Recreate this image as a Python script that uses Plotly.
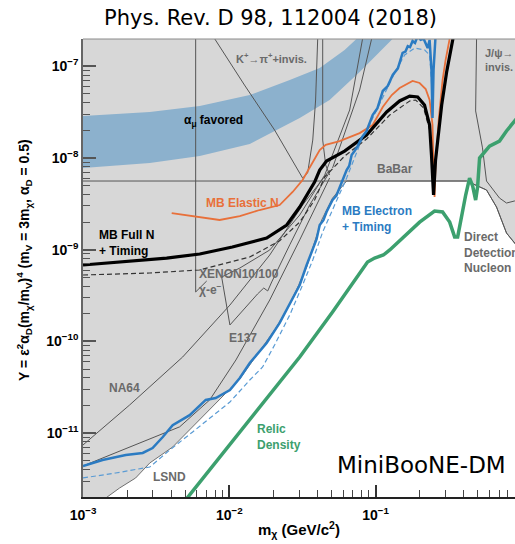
import plotly.graph_objects as go

# ---------------- data: dark-matter mass m_chi [GeV] and Y = eps^2 alpha_D (m_chi/m_V)^4 ----------------

# region still allowed (everything else is excluded / grey)
allowed_m = [1.33e-3, 1.78e-3, 2.29e-3, 2.86e-3, 4.10e-3, 5.62e-3, 8.07e-3, 1.18e-2, 1.38e-2, 1.69e-2,
             2.04e-2, 2.47e-2, 2.88e-2, 3.38e-2, 3.78e-2, 4.28e-2, 5.08e-2, 6.34e-2, 0.419, 0.573,
             0.671, 0.785, 0.891, 1.0, 1.0]
allowed_y = [1.8e-12, 2.52e-12, 3.24e-12, 4.72e-12, 7.05e-12, 1.17e-11, 2.13e-11, 3.89e-11, 5.53e-11, 8.69e-11,
             1.33e-10, 2.20e-10, 3.64e-10, 6.47e-10, 1.13e-9, 2.11e-9, 3.66e-9, 5.61e-9, 5.61e-9, 4.48e-9,
             2.92e-9, 1.52e-9, 1.18e-9, 9.5e-10, 1.8e-12]

# muon g-2 favoured band (upper edge then lower edge reversed)
amu_m = [1.0e-3, 2.86e-3, 6.28e-3, 1.38e-2, 2.59e-2, 4.15e-2, 6.14e-2, 7.78e-2,
         0.146, 0.131, 7.78e-2, 4.85e-2, 3.03e-2, 1.38e-2, 6.28e-3, 2.86e-3, 1.0e-3]
amu_y = [2.87e-8, 3.18e-8, 3.69e-8, 4.86e-8, 7.09e-8, 9.58e-8, 1.51e-7, 2.14e-7,
         2.49e-7, 2.0e-7, 8.67e-8, 4.29e-8, 2.73e-8, 1.42e-8, 1.05e-8, 8.82e-9, 7.78e-9]

# other experimental limits (thin lines)
babar_m = [1.0e-3, 0.419, 0.573, 0.671, 0.785, 0.891, 1.0]
babar_y = [5.61e-9, 5.61e-9, 4.48e-9, 2.92e-9, 1.52e-9, 1.18e-9, 9.5e-10]

kpi_m = [7.94e-3, 1.27e-2, 2.04e-2, 2.80e-2, 3.17e-2, 3.43e-2, 3.72e-2, 3.89e-2, 4.02e-2]
kpi_y = [2.0e-7, 6.25e-8, 2.02e-8, 8.39e-9, 6.05e-9, 6.85e-9, 1.57e-8, 4.29e-8, 2.0e-7]

dump1_m = [4.35e-2, 4.35e-2, 4.56e-2, 4.85e-2]
dump1_y = [2.0e-7, 1.57e-8, 8.39e-9, 6.52e-9]

dump2_m = [5.08e-2, 7.78e-2, 9.40e-2]
dump2_y = [7.78e-9, 5.52e-8, 2.0e-7]

dump3_m = [4.49e-2, 6.65e-2, 8.15e-2]
dump3_y = [6.52e-9, 3.34e-8, 2.0e-7]

na64_m = [4.85e-2, 3.17e-2, 1.89e-2, 1.01e-2, 4.80e-3, 2.08e-3, 1.0e-3]
na64_y = [7.40e-9, 3.07e-9, 8.75e-10, 2.49e-10, 6.76e-11, 2.02e-11, 7.42e-12]

lowmass_m = [1.0e-3, 2.08e-3, 4.58e-3, 7.35e-3, 1.11e-2, 1.89e-2, 3.03e-2, 4.85e-2]
lowmass_y = [4.38e-12, 7.05e-12, 1.17e-11, 2.30e-11, 6.27e-11, 2.83e-10, 1.28e-9, 6.05e-9]

e137_m = [4.49e-2, 3.03e-2, 1.89e-2, 1.18e-2, 8.87e-3, 1.01e-2, 1.56e-2, 1.72e-2, 1.83e-2, 1.95e-2,
          2.59e-2, 3.54e-2, 4.85e-2]
e137_y = [6.52e-9, 2.39e-9, 9.93e-10, 6.31e-10, 5.04e-10, 1.51e-10, 3.29e-10, 3.82e-10, 3.55e-10, 4.45e-10,
          1.13e-9, 3.07e-9, 7.03e-9]

xenon_m = [5.89e-3, 5.89e-3, 7.01e-3]
xenon_y = [2.0e-7, 3.46e-10, 4.56e-10]

jpsi_m = [0.490, 0.483, 0.538, 0.573, 0.703, 0.785, 0.891, 1.0]
jpsi_y = [2.0e-7, 3.26e-8, 1.29e-8, 5.61e-9, 3.66e-9, 3.23e-9, 3.40e-9, 3.5e-9]

# MiniBooNE nucleon (full N + timing): observed and expected
full_m = [1.0e-3, 1.78e-3, 3.73e-3, 6.28e-3, 1.05e-2, 1.80e-2, 2.47e-2, 3.03e-2, 3.83e-2, 4.15e-2,
          4.62e-2, 6.14e-2, 8.68e-2, 0.119, 0.146, 0.171, 0.194, 0.216, 0.234, 0.241,
          0.249, 0.257, 0.270, 0.283, 0.306, 0.336, 0.347]
full_y = [6.81e-10, 7.34e-10, 8.11e-10, 8.98e-10, 1.07e-9, 1.34e-9, 1.86e-9, 2.92e-9, 5.47e-9, 7.40e-9,
          9.27e-9, 1.19e-8, 1.78e-8, 3.18e-8, 4.19e-8, 4.74e-8, 4.63e-8, 3.78e-8, 2.29e-8, 1.08e-8,
          3.95e-9, 9.51e-9, 2.02e-8, 3.78e-8, 8.67e-8, 2.0e-7, 2.5e-7]

full_exp_m = [1.0e-3, 2.86e-3, 6.28e-3, 1.38e-2, 2.21e-2, 3.03e-2, 3.83e-2, 4.49e-2, 6.14e-2, 8.68e-2,
              0.125, 0.171, 0.188, 0.213, 0.234, 0.245]
full_exp_y = [5.30e-10, 5.57e-10, 6.01e-10, 8.32e-10, 1.25e-9, 2.00e-9, 3.48e-9, 6.21e-9, 1.05e-8, 1.61e-8,
              2.94e-8, 4.19e-8, 4.29e-8, 3.51e-8, 2.02e-8, 8.39e-9]

# MiniBooNE elastic nucleon
elastic_m = [4.04e-3, 6.28e-3, 8.59e-3, 1.18e-2, 1.61e-2, 2.21e-2, 2.71e-2, 3.17e-2, 3.65e-2, 4.15e-2,
             4.56e-2, 5.68e-2, 7.78e-2, 9.55e-2, 0.112, 0.129, 0.146, 0.179, 0.200, 0.220,
             0.234, 0.245, 0.249, 0.253, 0.257, 0.270, 0.287, 0.301, 0.321, 0.330]
elastic_y = [2.51e-9, 2.27e-9, 2.11e-9, 2.33e-9, 2.71e-9, 3.07e-9, 4.26e-9, 5.75e-9, 8.60e-9, 1.22e-8,
             1.39e-8, 1.53e-8, 1.87e-8, 2.29e-8, 3.60e-8, 4.86e-8, 5.79e-8, 6.92e-8, 6.58e-8, 5.65e-8,
             4.29e-8, 2.29e-8, 7.40e-9, 3.76e-9, 8.39e-9, 2.59e-8, 7.09e-8, 1.17e-7, 2.0e-7, 2.5e-7]

# MiniBooNE electron + timing: observed (with its statistical wiggles) and expected
electron_m = [1.0e-3, 1.36e-3, 1.96e-3, 2.56e-3, 2.99e-3, 3.51e-3, 4.10e-3, 5.36e-3, 6.90e-3, 8.07e-3,
              1.01e-2, 1.18e-2, 1.38e-2, 1.80e-2, 2.21e-2, 2.59e-2, 3.03e-2, 3.38e-2, 3.72e-2, 3.95e-2,
              4.15e-2, 4.40e-2, 4.62e-2, 5.08e-2, 5.40e-2, 5.68e-2, 6.34e-2, 6.60e-2, 6.86e-2, 7.20e-2,
              7.54e-2, 8.10e-2, 8.68e-2, 9.55e-2, 0.103, 0.112, 0.121, 0.131, 0.142, 0.153,
              0.160, 0.166, 0.172, 0.179, 0.186, 0.194, 0.203, 0.213, 0.227, 0.234,
              0.241, 0.245, 0.249, 0.257]
electron_y = [4.38e-12, 5.09e-12, 5.77e-12, 6.07e-12, 6.87e-12, 9.06e-12, 1.22e-11, 1.57e-11, 2.30e-11, 2.41e-11,
              2.95e-11, 3.99e-11, 5.81e-11, 9.61e-11, 1.59e-10, 2.62e-10, 4.12e-10, 6.81e-10, 1.04e-9, 1.30e-9,
              1.86e-9, 2.10e-9, 2.58e-9, 3.48e-9, 3.90e-9, 4.83e-9, 7.40e-9, 8.20e-9, 1.08e-8, 1.20e-8,
              1.35e-8, 1.70e-8, 1.97e-8, 2.94e-8, 3.50e-8, 5.38e-8, 6.10e-8, 8.04e-8, 9.50e-8, 1.40e-7,
              1.45e-7, 1.66e-7, 1.62e-7, 1.89e-7, 1.80e-7, 2.14e-7, 1.95e-7, 2.0e-7, 1.58e-7, 1.94e-7,
              9.12e-8, 2.73e-8, 9.12e-8, 2.14e-7]

electron_exp_m = [1.0e-3, 1.67e-3, 2.86e-3, 3.92e-3, 5.62e-3, 8.07e-3, 1.01e-2, 1.38e-2, 1.69e-2, 2.04e-2,
                  2.59e-2, 3.17e-2, 3.72e-2, 4.35e-2, 5.25e-2, 6.34e-2, 7.78e-2, 9.55e-2, 0.115, 0.135,
                  0.158, 0.185, 0.216, 0.234, 0.241, 0.245]
electron_exp_y = [3.24e-12, 3.67e-12, 4.27e-12, 6.54e-12, 1.03e-11, 1.66e-11, 2.18e-11, 3.79e-11, 5.26e-11, 9.14e-11,
                  1.94e-10, 4.12e-10, 7.72e-10, 1.56e-9, 3.07e-9, 6.05e-9, 1.39e-8, 2.73e-8, 5.12e-8, 8.45e-8,
                  1.33e-7, 1.58e-7, 1.51e-7, 1.33e-7, 7.09e-8, 2.94e-8]

# thermal relic target
relic_m = [4.8e-3, 1.69e-2, 3.03e-2, 5.08e-2, 8.81e-2, 9.85e-2, 0.113, 0.125, 0.146, 0.200,
           0.253, 0.287, 0.321, 0.347, 0.364, 0.388, 0.413, 0.439, 0.461, 0.483,
           0.498, 0.514, 0.601, 0.703, 0.785, 0.891, 1.0]
relic_y = [1.7e-12, 2.13e-11, 6.76e-11, 2.09e-10, 7.34e-10, 8.11e-10, 8.75e-10, 9.93e-10, 1.25e-9, 2.00e-9,
           2.64e-9, 2.58e-9, 2.00e-9, 1.38e-9, 1.38e-9, 2.39e-9, 3.95e-9, 6.05e-9, 4.95e-9, 3.48e-9,
           4.83e-9, 1.0e-8, 1.35e-8, 1.53e-8, 1.97e-8, 2.53e-8, 3.18e-8]

x_major = [1e-3, 1e-2, 1e-1]
x_major_text = ["<b>10<sup>−3</sup></b>", "<b>10<sup>−2</sup></b>", "<b>10<sup>−1</sup></b>"]
y_major = [1e-11, 1e-10, 1e-9, 1e-8, 1e-7]
y_major_text = ["<b>10<sup>−11</sup></b>", "<b>10<sup>−10</sup></b>", "<b>10<sup>−9</sup></b>",
                "<b>10<sup>−8</sup></b>", "<b>10<sup>−7</sup></b>"]

# ---------------- styling ----------------
GREY_BG = "#d7d7d7"
LIMIT = "#555555"
LABEL_GREY = "#6a6a6a"
BLUE = "#2b7bc2"
ORANGE = "#e8703a"
GREEN = "#3ca06e"
FONT = "Liberation Sans"

fig = go.Figure()


def add_line(m, y, color, width, dash=None):
    fig.add_trace(go.Scatter(x=m, y=y, mode="lines", hoverinfo="skip", showlegend=False,
                             line=dict(color=color, width=width, dash=dash)))


# allowed (white) region on top of the grey excluded background
fig.add_trace(go.Scatter(x=allowed_m, y=allowed_y, mode="lines", fill="toself", fillcolor="white",
                         line=dict(color="#6f6f6f", width=1), hoverinfo="skip", showlegend=False))

# g-2 band
fig.add_trace(go.Scatter(x=amu_m, y=amu_y, mode="lines", fill="toself", fillcolor="#8cb1cd",
                         line=dict(width=0), hoverinfo="skip", showlegend=False))

for m, y in [(babar_m, babar_y), (kpi_m, kpi_y), (dump1_m, dump1_y), (dump2_m, dump2_y),
             (dump3_m, dump3_y), (na64_m, na64_y), (lowmass_m, lowmass_y), (e137_m, e137_y),
             (xenon_m, xenon_y), (jpsi_m, jpsi_y)]:
    add_line(m, y, LIMIT, 1)

add_line(relic_m, relic_y, GREEN, 3.5)
add_line(electron_exp_m, electron_exp_y, "#5a9bd4", 1.2, "5px,3px")
add_line(full_exp_m, full_exp_y, "#333333", 1.2, "5px,3px")
add_line(elastic_m, elastic_y, ORANGE, 1.8)
add_line(full_m, full_y, "black", 3.2)
add_line(electron_m, electron_y, BLUE, 2.5)


def label(text, x, y, color, size=12, xanchor="center", bold=True, family=FONT):
    fig.add_annotation(text=f"<b>{text}</b>" if bold else text, x=x, y=y, xref="paper", yref="paper",
                       xanchor=xanchor, yanchor="middle", showarrow=False, align="left",
                       font=dict(family=family, size=size, color=color))


label("K<sup>+</sup>→π<sup>+</sup>+invis.", 0.436, 0.9585, LABEL_GREY, 11)
label("α<sub>μ</sub> favored", 0.303, 0.821, "black", 12)
label("MB Elastic N", 0.369, 0.642, ORANGE, 12)
label("MB Full N<br>+ Timing", 0.0317, 0.5535, "black", 12, xanchor="left")
label("XENON10/100<br>χ-e<sup>−</sup>", 0.264, 0.469, LABEL_GREY, 12, xanchor="left")
label("E137", 0.371, 0.347, LABEL_GREY, 12)
label("NA64", 0.0966, 0.238, LABEL_GREY, 12)
label("LSND", 0.200, 0.0437, LABEL_GREY, 12)
label("BaBar", 0.723, 0.716, LABEL_GREY, 12)
label("MB Electron<br>+ Timing", 0.5946, 0.607, BLUE, 12, xanchor="left")
label("J/ψ→<br>invis.", 0.926, 0.955, LABEL_GREY, 11, xanchor="left")
label("Direct<br>Detection<br>Nucleon", 0.877, 0.533, LABEL_GREY, 12, xanchor="left")
label("Relic<br>Density", 0.398, 0.130, GREEN, 12, xanchor="left")

# axis titles
label("m<sub>χ</sub> (GeV/c<sup>2</sup>)", 0.5, -0.07, "black", 15)
fig.add_annotation(text="<b>Y = ε<sup>2</sup>α<sub>D</sub>(m<sub>χ</sub>/m<sub>V</sub>)<sup>4</sup> "
                        "(m<sub>V</sub> = 3m<sub>χ</sub>, α<sub>D</sub> = 0.5)</b>",
                   x=-0.135, y=0.517, xref="paper", yref="paper", textangle=-90, showarrow=False,
                   xanchor="center", yanchor="middle",
                   font=dict(family=FONT, size=14, color="black"))

# header and tag
label("Phys. Rev. D 98, 112004 (2018)", 0.4336, 1.0459, "black", 21, bold=False, family="DejaVu Sans")
label("MiniBooNE-DM", 0.783, 0.0699, "black", 23, bold=False, family="DejaVu Sans")

# thin frame line along the top of the plot
fig.add_shape(type="line", xref="paper", yref="paper", x0=0, x1=1, y0=1, y1=1,
              line=dict(color="#8a8a8a", width=1))

x_minor = [k * 10.0 ** p for p in (-3, -2, -1) for k in range(2, 10)]
y_minor = [k * 10.0 ** p for p in (-12, -11, -10, -9, -8, -7) for k in range(2, 10)]

fig.update_layout(
    width=515, height=544,
    margin=dict(l=83, r=0, t=39, b=47),
    paper_bgcolor="white", plot_bgcolor=GREY_BG,
    showlegend=False, hovermode=False,
    xaxis=dict(type="log", range=[-3, -0.047], tickvals=x_major, ticktext=x_major_text,
               ticks="inside", ticklen=12, tickwidth=1.5, tickcolor="#333", ticklabelstandoff=4,
               minor=dict(tickvals=x_minor, ticks="inside", ticklen=7, tickwidth=1.2, tickcolor="#444"),
               showgrid=False, zeroline=False, showline=True, linecolor="#222", linewidth=2,
               tickfont=dict(family=FONT, size=14, color="black")),
    yaxis=dict(type="log", range=[-11.697, -6.702], tickvals=y_major, ticktext=y_major_text,
               ticks="inside", ticklen=13, tickwidth=1.5, tickcolor="#555",
               minor=dict(tickvals=y_minor, ticks="inside", ticklen=7, tickwidth=1.2, tickcolor="#555"),
               showgrid=False, zeroline=False, showline=True, linecolor="#666", linewidth=1.5,
               tickfont=dict(family=FONT, size=14, color="black")),
)

fig.write_html("out.html")
